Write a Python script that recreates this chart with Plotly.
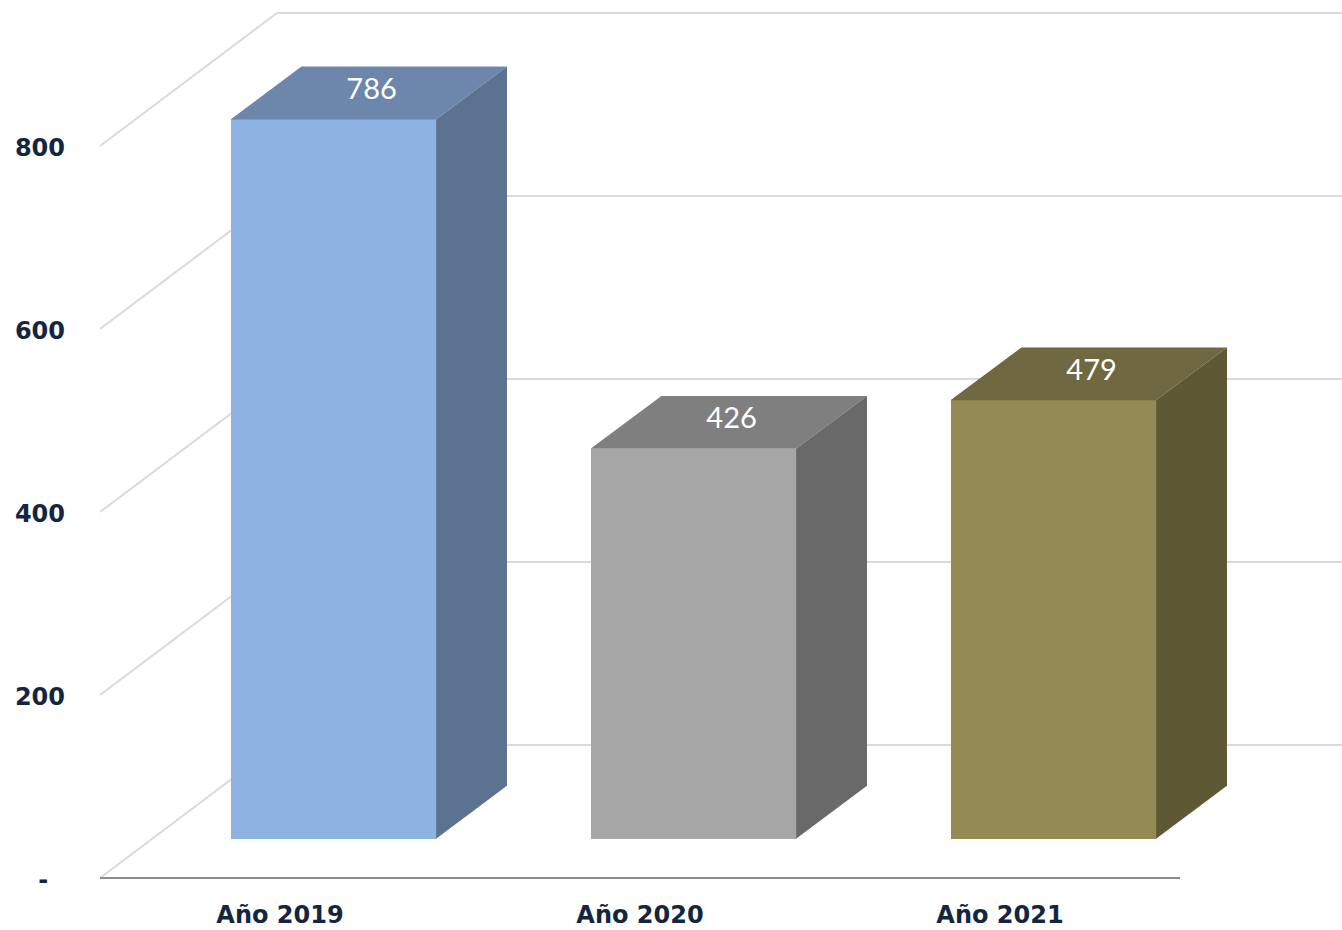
import plotly.graph_objects as go

years = ["Año 2019", "Año 2020", "Año 2021"]
values = [786, 426, 479]
front_colors = ["#8DB3E2", "#A6A6A6", "#948A54"]
top_colors = ["#6C87AB", "#7F7F7F", "#6F6840"]
side_colors = ["#5B7391", "#696969", "#5E5835"]
tick_values = [0, 200, 400, 600, 800]
tick_labels = ["-\u00a0\u00a0", "200", "400", "600", "800"]

TEXT = "#14263F"
GRID = "#DADADA"
bar_width = 0.571
bar_shift = 0.148
floor_lift = 43.0
bar_dx, bar_dy = 0.197, 57.9
wall_dx, wall_dy = 0.4917, 145.4
x_min, x_max, x_axis_end = -0.5, 2.95, 2.5
y_min, y_max = -4.37, 959.56

xs = [i + bar_shift for i in range(len(years))]

fig = go.Figure()
fig.add_trace(go.Bar(x=xs, y=values, base=[floor_lift] * 3, width=bar_width,
                     marker=dict(color=front_colors, line=dict(width=0)), hoverinfo="skip"))

for x, v, top, side in zip(xs, values, top_colors, side_colors):
    l, r = x - bar_width / 2, x + bar_width / 2
    t = v + floor_lift
    fig.add_trace(go.Scatter(x=[l, r, r + bar_dx, l + bar_dx, l],
                             y=[t, t, t + bar_dy, t + bar_dy, t],
                             mode="lines", fill="toself", fillcolor=top,
                             line=dict(width=0), hoverinfo="skip"))
    fig.add_trace(go.Scatter(x=[r, r + bar_dx, r + bar_dx, r, r],
                             y=[floor_lift, floor_lift + bar_dy, t + bar_dy, t, floor_lift],
                             mode="lines", fill="toself", fillcolor=side,
                             line=dict(width=0), hoverinfo="skip"))

fig.add_trace(go.Scatter(x=[x + bar_dx * 0.54 for x in xs],
                         y=[v + floor_lift + bar_dy * 0.53 for v in values],
                         text=[str(v) for v in values], mode="text", textposition="middle center",
                         textfont=dict(family="Lato", size=29, color="white"), hoverinfo="skip"))

shapes = []
for tv in tick_values:
    shapes.append(dict(type="line", xref="x", yref="y", layer="below",
                       x0=x_min, y0=tv, x1=x_min + wall_dx, y1=tv + wall_dy,
                       line=dict(color=GRID, width=2)))
    shapes.append(dict(type="line", xref="x", yref="y", layer="below",
                       x0=x_min + wall_dx, y0=tv + wall_dy, x1=x_max, y1=tv + wall_dy,
                       line=dict(color=GRID, width=2)))
shapes.append(dict(type="line", xref="x", yref="y", layer="below",
                   x0=x_min, y0=0, x1=x_axis_end, y1=0,
                   line=dict(color="#8C8C8C", width=2)))

fig.update_layout(
    width=1342, height=930, autosize=False,
    margin=dict(l=100, r=0, t=0, b=48),
    paper_bgcolor="white", plot_bgcolor="white",
    showlegend=False, shapes=shapes, bargap=0,
    xaxis=dict(range=[x_min, x_max], tickmode="array", tickvals=list(range(len(years))),
               ticktext=years, showgrid=False, zeroline=False, showline=False, ticks="",
               ticklabelstandoff=16, automargin=False,
               tickfont=dict(family="DejaVu Sans", size=24, color=TEXT, weight="bold")),
    yaxis=dict(range=[y_min, y_max], tickmode="array", tickvals=tick_values, ticktext=tick_labels,
               showgrid=False, zeroline=False, showline=False, ticks="",
               ticklabelstandoff=34, ticklabelshift=2, automargin=False,
               tickfont=dict(family="DejaVu Sans", size=24, color=TEXT, weight="bold")),
)

fig.write_html("out.html", config=dict(displayModeBar=False),
               post_script="document.body.style.margin='0';document.body.style.overflow='hidden';")
